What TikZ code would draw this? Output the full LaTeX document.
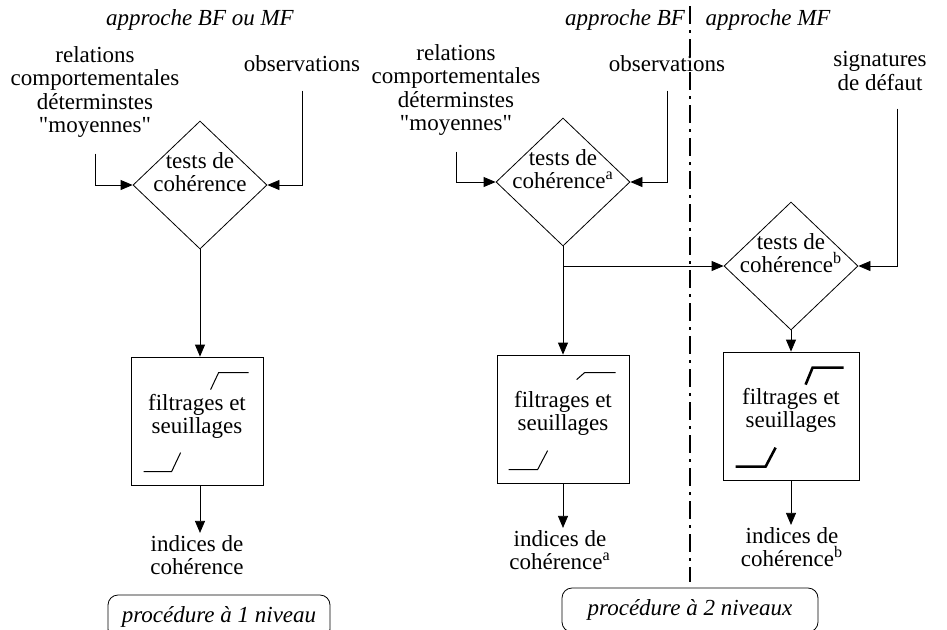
\documentclass[tikz,border=0pt]{standalone}
\usepackage{fontspec}
\setmainfont{Liberation Serif}
\usetikzlibrary{shapes.geometric,arrows.meta}

\begin{document}
\begin{tikzpicture}[x=0.5pt, y=-0.5pt,
  every node/.style={font=\fontsize{11.5}{11.6}\selectfont, align=center, inner sep=1pt},
  titre/.style={font=\fontsize{11.5}{11.6}\selectfont\itshape},
  test/.style={diamond, draw, minimum width=67pt, minimum height=64pt, inner sep=0pt},
  filtre/.style={rectangle, draw, minimum width=66pt, minimum height=64pt},
  proc/.style={rectangle, draw, rounded corners=5pt, minimum height=22pt, font=\fontsize{11.5}{11.6}\selectfont\itshape},
  arr/.style={-{Triangle[length=6pt,width=5pt]}},
  seuil/.style={line width=0.5pt},
  seuilb/.style={line width=1.3pt}]
  \useasboundingbox (0,0) rectangle (947,629);
  \clip (0,0) rectangle (947,629);

  % procedure a 1 niveau
  \node[titre] (app1) at (200,20) {approche BF ou MF};
  \node (rel1) at (95,92) {relations\\comportementales\\déterminstes\\\textquotedbl moyennes\textquotedbl};
  \node (obs1) at (302,64) {observations};
  \node[test] (t1) at (200,185) {};
  \node (t1l) at (200,172) {tests de\\cohérence};
  \node[filtre] (f1) at (197,421) {};
  \node (f1l) at (197,416) {filtrages et\\seuillages};
  \node (ind1) at (197,555) {indices de\\cohérence};
  \node[proc, minimum width=111pt] (p1) at (219,617) {procédure à 1 niveau};

  \draw[arr] ([yshift=-7pt]rel1.south) |- (t1.west);
  \draw[arr] ([yshift=-8pt]obs1.south) |- (t1.east);
  \draw[arr] (t1.south) -- (t1.south |- f1.north);
  \draw[arr] (t1.south |- f1.south) -- (t1.south |- ind1.north);
  \draw[seuil] ([shift={(80,33)}]f1.north west) -- ++(8,-17) -- ++(30,0);
  \draw[seuil] ([shift={(13,115)}]f1.north west) -- ++(28,0) -- ++(9,-19);

  % procedure a 2 niveaux
  \node[titre] (app2) at (625,20) {approche BF};
  \node[titre] (app3) at (768,20) {approche MF};
  \node (rel2) at (456,90) {relations\\comportementales\\déterminstes\\\textquotedbl moyennes\textquotedbl};
  \node (obs2) at (667,64) {observations};
  \node (sig) at (880,71) {signatures\\de défaut};
  \node[test] (t2) at (563,182) {};
  \node (t2l) at (563,169) {tests de\\cohérence\textsuperscript{a}};
  \node[test] (t3) at (791,266) {};
  \node (t3l) at (791,253) {tests de\\cohérence\textsuperscript{b}};
  \node[filtre] (f2) at (563,419) {};
  \node (f2l) at (563,413) {filtrages et\\seuillages};
  \node[filtre, minimum width=68pt] (f3) at (791,416) {};
  \node (f3l) at (791,410) {filtrages et\\seuillages};
  \node (ind2) at (560,550) {indices de\\cohérence\textsuperscript{a}};
  \node (ind3) at (792,547) {indices de\\cohérence\textsuperscript{b}};
  \node[proc, minimum width=128pt] (p2) at (690,610) {procédure à 2 niveaux};
  \coordinate (sepA) at (690,6);
  \coordinate (sepB) at (690,582);

  \draw[arr] ([yshift=-7pt]rel2.south) |- (t2.west);
  \draw[arr] ([yshift=-8pt]obs2.south) |- (t2.east);
  \draw[arr] ([xshift=8.5pt,yshift=-8pt]sig.south) |- (t3.east);
  \draw[arr] (t2.south) -- (f2.north);
  \draw[arr] (t2.south |- t3.west) -- (t3.west);
  \draw[arr] (t3.south) -- (f3.north);
  \draw[arr] (f2.south) -- (f2.south |- ind2.north);
  \draw[arr] (f3.south) -- (f3.south |- ind3.north);
  \draw[seuil] ([shift={(80,25)}]f2.north west) -- ++(8,-7) -- ++(31,0);
  \draw[seuil] ([shift={(12,115)}]f2.north west) -- ++(29,0) -- ++(10,-19);
  \draw[seuilb] ([shift={(83,33)}]f3.north west) -- ++(7,-17) -- ++(31,0);
  \draw[seuilb] ([shift={(13,115)}]f3.north west) -- ++(30,0) -- ++(10,-19);
  \draw[line width=1.2pt, dash pattern=on 9pt off 3pt on 1.5pt off 3pt] (sepA) -- (sepB);
\end{tikzpicture}
\end{document}
